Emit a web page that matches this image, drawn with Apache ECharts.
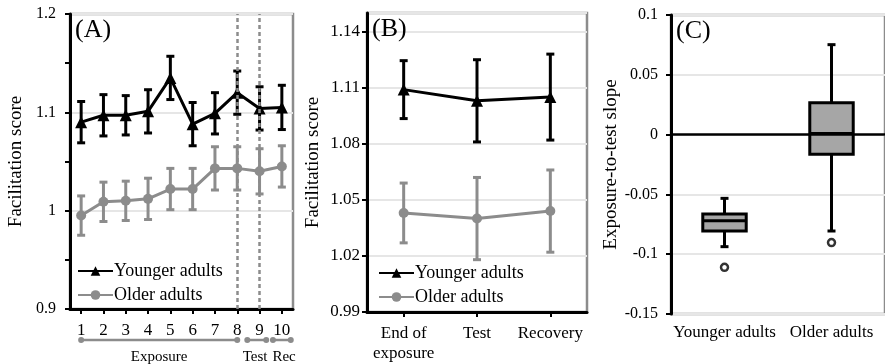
<!DOCTYPE html>
<html>
<head>
<meta charset="utf-8">
<script src="https://cdn.jsdelivr.net/npm/echarts@6/dist/echarts.min.js"></script>
<style>
  html, body { margin: 0; padding: 0; background: #fff; }
  #chart { width: 885px; height: 364px; }
</style>
</head>
<body>
<div id="chart"></div>
<script>
// Panel A: facilitation score per block
const blocks = ['1', '2', '3', '4', '5', '6', '7', '8', '9', '10'];
const youngerByBlock = [1.090, 1.097, 1.097, 1.101, 1.135, 1.088, 1.099, 1.120, 1.104, 1.105];
const youngerByBlockErr = [0.021, 0.021, 0.020, 0.022, 0.022, 0.022, 0.021, 0.022, 0.022, 0.0225];
const olderByBlock = [0.995, 1.009, 1.010, 1.012, 1.022, 1.022, 1.043, 1.043, 1.040, 1.045];
const olderByBlockErr = [0.020, 0.020, 0.020, 0.021, 0.021, 0.021, 0.022, 0.022, 0.023, 0.021];

// Panel B: facilitation score per phase
const phases = ['End of\nexposure', 'Test', 'Recovery'];
const youngerByPhase = [1.109, 1.103, 1.105];
const youngerByPhaseErr = [0.0155, 0.022, 0.023];
const olderByPhase = [1.043, 1.040, 1.044];
const olderByPhaseErr = [0.016, 0.022, 0.022];

// Panel C: exposure-to-test slope distribution [min, Q1, median, Q3, max]
const groups = ['Younger adults', 'Older adults'];
const slopeBoxes = [
  [-0.0937, -0.0806, -0.072, -0.0664, -0.0533],
  [-0.0806, -0.0164, 0.001, 0.0267, 0.0752]
];
const slopeOutliers = [-0.111, -0.0903];

// Block-phase annotations under panel A (in block units)
const phaseBrackets = [
  { text: 'Exposure', from: 1, to: 8, at: 4.5 },
  { text: 'Test', from: 8.45, to: 9.3, at: 8.8 },
  { text: 'Rec', from: 9.6, to: 10.4, at: 10.1 }
];

const FONT = 'Liberation Serif';
const BLACK = '#000';
const GRAY = '#8c8c8c';
const BORDER = '#8c8c8c';
const GRID_LINE = '#e6e6e6';
const BOX_FILL = '#a6a6a6';

const grids = [
  { left: 70, top: 14, width: 223, height: 295 },
  { left: 367, top: 13, width: 220, height: 299 },
  { left: 671, top: 15, width: 218, height: 299 }
];

function errorBars(axisIdx, means, errs, color) {
  return {
    type: 'custom',
    xAxisIndex: axisIdx,
    yAxisIndex: axisIdx,
    z: 3,
    silent: true,
    encode: { x: 0, y: [1, 2] },
    data: means.map((m, i) => [i, m - errs[i], m + errs[i]]),
    renderItem(params, api) {
      const lo = api.coord([api.value(0), api.value(1)]);
      const hi = api.coord([api.value(0), api.value(2)]);
      const cap = 4;
      const style = { stroke: color, lineWidth: 3 };
      return {
        type: 'group',
        children: [
          { type: 'line', shape: { x1: lo[0], y1: lo[1], x2: hi[0], y2: hi[1] }, style },
          { type: 'line', shape: { x1: lo[0] - cap, y1: lo[1], x2: lo[0] + cap, y2: lo[1] }, style },
          { type: 'line', shape: { x1: hi[0] - cap, y1: hi[1], x2: hi[0] + cap, y2: hi[1] }, style }
        ]
      };
    }
  };
}

function meanLine(axisIdx, name, values, color, symbol, size) {
  return {
    type: 'line',
    name,
    xAxisIndex: axisIdx,
    yAxisIndex: axisIdx,
    data: values,
    z: 4,
    symbol,
    symbolSize: size,
    showSymbol: true,
    lineStyle: { color, width: 3 },
    itemStyle: { color, borderWidth: 0 },
    emphasis: { disabled: true }
  };
}

function categoryAxis(gridIndex, data, opts) {
  return Object.assign({
    type: 'category',
    gridIndex,
    data,
    boundaryGap: true,
    axisLine: { show: true, onZero: false, lineStyle: { color: BLACK, width: 3 } },
    axisTick: { show: true, alignWithLabel: true, length: 5, lineStyle: { color: BLACK, width: 2 } },
    axisLabel: { interval: 0, color: BLACK, fontFamily: FONT, fontSize: 17, margin: 12, lineHeight: 20 },
    splitLine: { show: false }
  }, opts || {});
}

function valueAxis(gridIndex, min, max, interval, name, nameGap, extra) {
  return Object.assign({
    type: 'value',
    gridIndex,
    min, max, interval,
    name,
    nameLocation: 'middle',
    nameGap,
    nameTextStyle: { color: BLACK, fontFamily: FONT, fontSize: 19 },
    axisLine: { show: true, lineStyle: { color: BLACK, width: 3 } },
    axisTick: { show: true, length: 5, lineStyle: { color: BLACK, width: 2 } },
    axisLabel: { color: BLACK, fontFamily: FONT, fontSize: 16, margin: 14, showMaxLabel: true },
    splitLine: { show: true, lineStyle: { color: GRID_LINE, width: 2 } }
  }, extra || {});
}

function panelLegend(left, top) {
  return {
    left, top,
    orient: 'vertical',
    itemWidth: 35,
    itemHeight: 12,
    itemGap: 6,
    selectedMode: false,
    data: ['Younger adults', 'Older adults'],
    textStyle: { color: BLACK, fontFamily: FONT, fontSize: 18, padding: [0, 0, 0, -4] }
  };
}

const chart = echarts.init(document.getElementById('chart'), null, { renderer: 'canvas' });

const option = {
  animation: false,
  backgroundColor: '#fff',
  grid: grids.map(g => Object.assign({
    show: true,
    borderColor: BORDER,
    borderWidth: 2.5,
    backgroundColor: 'transparent',
    containLabel: false
  }, g)),
  legend: [panelLegend(72, 257), panelLegend(373, 259)],
  xAxis: [
    categoryAxis(0, blocks),
    categoryAxis(1, phases),
    categoryAxis(2, groups, {
      axisLine: { show: false },
      axisTick: { show: false },
      axisLabel: { interval: 0, color: BLACK, fontFamily: FONT, fontSize: 17, margin: 10 }
    })
  ],
  yAxis: [
    valueAxis(0, 0.9, 1.2, 0.1, 'Facilitation score', 44, {
      minorTick: { show: true, splitNumber: 2, length: 5, lineStyle: { color: BLACK, width: 2 } }
    }),
    valueAxis(1, 0.99, 1.15, 0.03, 'Facilitation score', 44, {
      axisLabel: { color: BLACK, fontFamily: FONT, fontSize: 17, margin: 7, showMaxLabel: false }
    }),
    valueAxis(2, -0.15, 0.1, 0.05, 'Exposure-to-test slope', 48, {
      axisLabel: { color: BLACK, fontFamily: FONT, fontSize: 16, margin: 13 }
    })
  ],
  series: [
    // Phase boundaries in panel A
    {
      type: 'line',
      xAxisIndex: 0,
      yAxisIndex: 0,
      data: [],
      z: 1,
      silent: true,
      markLine: {
        silent: true,
        symbol: 'none',
        label: { show: false },
        lineStyle: { color: GRAY, width: 2.5, type: [4, 3] },
        data: [{ xAxis: '8' }, { xAxis: '9' }]
      }
    },
    errorBars(0, olderByBlock, olderByBlockErr, GRAY),
    errorBars(0, youngerByBlock, youngerByBlockErr, BLACK),
    meanLine(0, 'Older adults', olderByBlock, GRAY, 'circle', 10),
    meanLine(0, 'Younger adults', youngerByBlock, BLACK, 'triangle', 12),

    errorBars(1, olderByPhase, olderByPhaseErr, GRAY),
    errorBars(1, youngerByPhase, youngerByPhaseErr, BLACK),
    meanLine(1, 'Older adults', olderByPhase, GRAY, 'circle', 10),
    meanLine(1, 'Younger adults', youngerByPhase, BLACK, 'triangle', 12),

    // Panel C: box-and-whisker plot
    {
      type: 'custom',
      xAxisIndex: 2,
      yAxisIndex: 2,
      z: 3,
      silent: true,
      encode: { x: 0, y: [1, 2, 3, 4, 5] },
      data: slopeBoxes.map((b, i) => [i].concat(b)),
      renderItem(params, api) {
        const i = api.value(0);
        const pt = k => api.coord([i, api.value(k)]);
        const pMin = pt(1), pQ1 = pt(2), pMed = pt(3), pQ3 = pt(4), pMax = pt(5);
        const x = pMin[0];
        const half = api.size([1, 0])[0] * 0.203;
        const cap = 4;
        const stroke = { stroke: BLACK, lineWidth: 3 };
        return {
          type: 'group',
          children: [
            { type: 'line', shape: { x1: x, y1: pMax[1], x2: x, y2: pQ3[1] }, style: stroke },
            { type: 'line', shape: { x1: x, y1: pQ1[1], x2: x, y2: pMin[1] }, style: stroke },
            { type: 'line', shape: { x1: x - cap, y1: pMax[1], x2: x + cap, y2: pMax[1] }, style: stroke },
            { type: 'line', shape: { x1: x - cap, y1: pMin[1], x2: x + cap, y2: pMin[1] }, style: stroke },
            {
              type: 'rect',
              shape: { x: x - half, y: pQ3[1], width: half * 2, height: pQ1[1] - pQ3[1] },
              style: { fill: BOX_FILL, stroke: BLACK, lineWidth: 3 }
            },
            { type: 'line', shape: { x1: x - half, y1: pMed[1], x2: x + half, y2: pMed[1] }, style: stroke }
          ]
        };
      }
    },
    {
      type: 'scatter',
      xAxisIndex: 2,
      yAxisIndex: 2,
      z: 4,
      silent: true,
      data: slopeOutliers.map((v, i) => [i, v]),
      symbol: 'circle',
      symbolSize: 7,
      itemStyle: { color: '#fff', borderColor: BLACK, borderWidth: 2.5 },
      markLine: {
        silent: true,
        symbol: 'none',
        label: { show: false },
        lineStyle: { color: BLACK, width: 2.5, type: 'solid' },
        data: [{ yAxis: 0 }]
      }
    }
  ]
};

chart.setOption(option);

// Panel tags and phase brackets, placed from the axes' own pixel mapping
const first = chart.convertToPixel({ xAxisIndex: 0 }, 0);
const last = chart.convertToPixel({ xAxisIndex: 0 }, blocks.length - 1);
const step = (last - first) / (blocks.length - 1);
const blockX = b => first + (b - 1) * step;
const bracketY = 340;

const graphics = [];
['(A)', '(B)', '(C)'].forEach((t, k) => {
  graphics.push({
    type: 'text',
    left: grids[k].left + 5,
    top: grids[k].top + 3,
    style: { text: t, fill: BLACK, font: '26px "' + FONT + '"' },
    silent: true
  });
});
phaseBrackets.forEach(p => {
  const x1 = blockX(p.from), x2 = blockX(p.to);
  graphics.push({
    type: 'line',
    shape: { x1, y1: bracketY, x2, y2: bracketY },
    style: { stroke: GRAY, lineWidth: 2.5 },
    silent: true
  });
  [x1, x2].forEach(cx => graphics.push({
    type: 'circle',
    shape: { cx, cy: bracketY, r: 3 },
    style: { fill: GRAY },
    silent: true
  }));
  graphics.push({
    type: 'text',
    x: blockX(p.at),
    y: bracketY + 17,
    style: { text: p.text, fill: BLACK, font: '15px "' + FONT + '"', align: 'center', verticalAlign: 'middle' },
    silent: true
  });
});
chart.setOption({ graphic: graphics });
</script>
</body>
</html>
